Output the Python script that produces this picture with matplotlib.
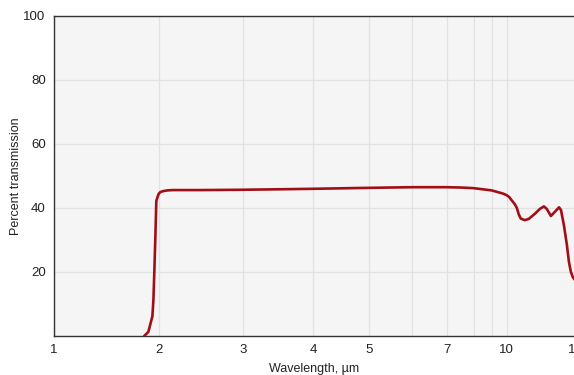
import numpy as np
import matplotlib
matplotlib.use("Agg")
import matplotlib.pyplot as plt

plt.rcParams['font.family'] = ['Liberation Sans', 'DejaVu Sans']

# transmission curve (wavelength in um, percent)
wavelength = [1.81, 1.86, 1.91, 1.923, 1.935, 1.948, 1.96, 1.974, 1.99, 2.01,
              2.04, 2.08, 2.13, 2.44, 3.0, 3.65, 4.0, 5.0, 6.0, 7.0, 7.5, 8.0,
              8.42, 9.0, 9.44, 9.75, 10.0, 10.15, 10.30, 10.49, 10.62, 10.74,
              10.87, 11.13, 11.40, 11.82, 12.17, 12.47, 12.69, 13.00, 13.31,
              13.64, 13.80, 14.05, 14.30, 14.47, 14.64, 14.82, 15.0]
transmission = [0.0, 1.3, 6.2, 11.4, 20.6, 31.4, 42.2, 43.3, 44.4, 45.0,
                45.3, 45.5, 45.6, 45.6, 45.7, 45.9, 46.0, 46.3, 46.5, 46.5, 46.4,
                46.2, 45.9, 45.5, 44.9, 44.5, 44.0, 43.4, 42.4, 41.2, 40.0, 38.0,
                36.7, 36.2, 36.6, 38.2, 39.7, 40.5, 39.7, 37.5, 38.8,
                40.2, 39.4, 34.5, 28.3, 23.1, 20.0, 18.3, 17.5]

x_major = [1, 2, 3, 4, 5, 7, 10, 15]
x_minor = [6, 8, 9]
y_ticks = [20, 40, 60, 80, 100]

# the x axis of the original is a stretched, non uniform wavelength scale
scale_knots = np.array([1, 2, 3, 4, 5, 6, 7, 8, 9, 10, 15], dtype=float)
scale_pos = np.array([54, 159, 242, 312, 368, 411, 445, 472, 490, 505, 573], dtype=float)

def fwd(x):
    x = np.clip(np.asarray(x, dtype=float), 1e-3, None)
    return np.interp(np.log(x), np.log(scale_knots), scale_pos)

def inv(p):
    return np.exp(np.interp(np.asarray(p, dtype=float), scale_pos, np.log(scale_knots)))

fig = plt.figure(figsize=(5.74, 3.75), dpi=100)
ax = fig.add_axes([54/574, 39/375, 521/574, 320/375])
ax.set_facecolor('#f5f5f5')

ax.set_xscale('function', functions=(fwd, inv))
ax.set_xlim(1, 15)
ax.set_ylim(0, 100)

ax.plot(wavelength, transmission, color='#a10f16', lw=1.9, zorder=3,
        solid_joinstyle='round', solid_capstyle='round')

ax.set_xticks(x_major)
ax.set_xticklabels([str(v) for v in x_major])
ax.set_xticks(x_minor, minor=True)
ax.set_xticklabels([], minor=True)
ax.set_yticks(y_ticks)
ax.set_yticklabels([str(v) for v in y_ticks])

ax.grid(True, which='both', axis='x', color='#e2e2e2', lw=0.9)
ax.grid(True, axis='y', color='#e2e2e2', lw=0.9)
ax.set_axisbelow(True)

ax.tick_params(axis='both', which='both', length=0, labelsize=9.5,
               labelcolor='#222222', pad=6)
ax.set_xlabel('Wavelength, µm', fontsize=9, color='#222222', labelpad=5)
ax.set_ylabel('Percent transmission', fontsize=9, color='#222222', labelpad=1)

for s in ['left', 'bottom', 'top']:
    ax.spines[s].set_color('#333333')
    ax.spines[s].set_linewidth(1.0)
ax.spines['right'].set_visible(False)

fig.savefig('out.png', dpi=100)
